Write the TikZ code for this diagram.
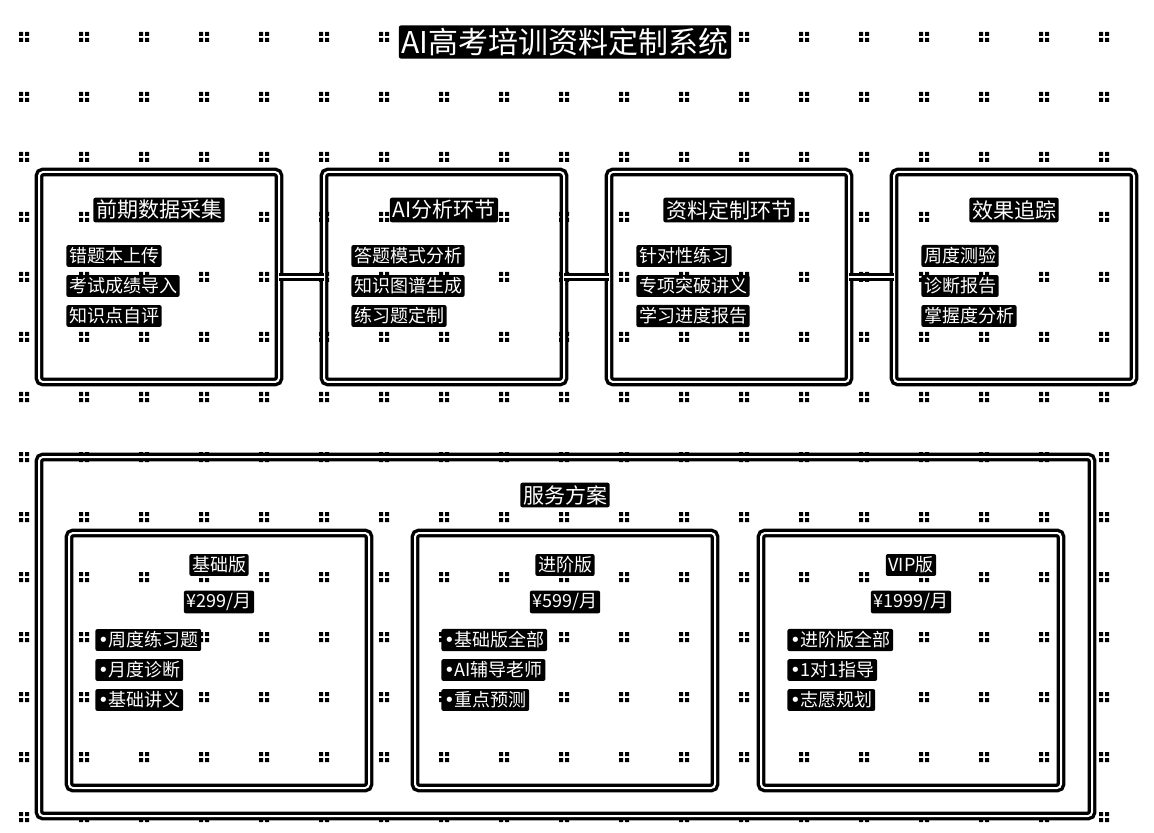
\documentclass[tikz,border=0pt]{standalone}
\usepackage{fontspec}
\setmainfont{Noto Sans CJK SC}
\newfontfamily\dotfont{DejaVu Sans}
\usetikzlibrary{positioning}

\begin{document}
\begin{tikzpicture}[x=0.5pt,y=-0.5pt,
    dbl/.style={draw=black,line width=1.7pt,double=white,double distance=1pt},
    stage/.style={dbl,rounded corners=2pt,minimum width=120pt,minimum height=105pt,inner sep=0pt,outer sep=0pt},
    plan/.style={dbl,rounded corners=2pt,minimum width=150pt,minimum height=127.5pt,inner sep=0pt,outer sep=0pt},
    tag/.style={fill=black,text=white,rounded corners=1pt,inner sep=1.3pt},
    head/.style={tag,font=\fontsize{10.5}{12}\selectfont},
    item/.style={tag,anchor=west,font=\fontsize{9}{11}\selectfont}]
  \useasboundingbox (0,0) rectangle (1154,833);
  % background dots
  \foreach \gx in {24,84,...,1104}
    \foreach \gy in {37,97,...,817}
      \fill (\gx-5,\gy-5) rectangle ++(4,4) (\gx+1,\gy-5) rectangle ++(4,4)
            (\gx-5,\gy+1) rectangle ++(4,4) (\gx+1,\gy+1) rectangle ++(4,4);
  \node[tag,font=\fontsize{15}{17}\selectfont] (title) at (565,42) {AI高考培训资料定制系统};
  % stages
  \foreach \nm/\cx/\hd/\ia/\ib/\ic in {
      collect/159/前期数据采集/错题本上传/考试成绩导入/知识点自评,
      analyse/444/AI分析环节/答题模式分析/知识图谱生成/练习题定制,
      tailor/729/资料定制环节/针对性练习/专项突破讲义/学习进度报告,
      track/1014/效果追踪/周度测验/诊断报告/掌握度分析}{
    \node[stage] (\nm) at (\cx,277) {};
    \node[head] (\nm-t) at (\cx,210) {\hd};
    \node[item] (\nm-1) at (\cx-93,256) {\ia};
    \node[item] (\nm-2) at (\cx-93,286) {\ib};
    \node[item] (\nm-3) at (\cx-93,316) {\ic};
  }
  \draw[dbl] (collect) -- (analyse);
  \draw[dbl] (analyse) -- (tailor);
  \draw[dbl] (tailor) -- (track);
  % service plans
  \node[dbl,rounded corners=2pt,minimum width=526.5pt,minimum height=179.5pt,inner sep=0pt] (service) at (565.5,636.5) {};
  \node[head] (service-t) at (565,495) {服务方案};
  \foreach \nm/\cx/\hd/\pr/\ia/\ib/\ic in {
      basic/219/基础版/{¥299/月}/周度练习题/月度诊断/基础讲义,
      plus/565/进阶版/{¥599/月}/基础版全部/AI辅导老师/重点预测,
      vip/911/VIP版/{¥1999/月}/进阶版全部/1对1指导/志愿规划}{
    \node[plan] (\nm) at (\cx,660.5) {};
    \node[item,anchor=center] (\nm-t) at (\cx,565) {\hd};
    \node[item,anchor=center] (\nm-p) at (\cx,602) {\pr};
    \node[item] (\nm-1) at (\cx-124,640) {{\dotfont•}\ia};
    \node[item] (\nm-2) at (\cx-124,670) {{\dotfont•}\ib};
    \node[item] (\nm-3) at (\cx-124,700) {{\dotfont•}\ic};
  }
\end{tikzpicture}
\end{document}
